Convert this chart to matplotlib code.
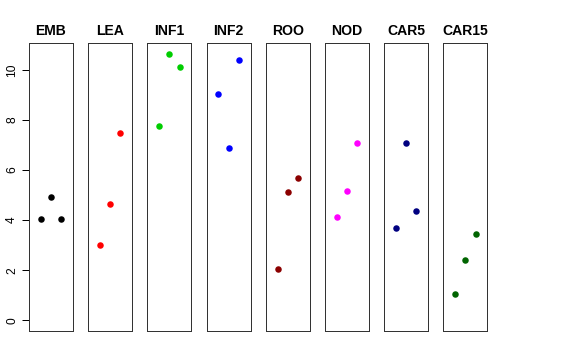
import matplotlib
matplotlib.use("Agg")
import matplotlib.pyplot as plt

plt.rcParams['font.family'] = ['Liberation Sans', 'DejaVu Sans']

categories = ["EMB", "LEA", "INF1", "INF2", "ROO", "NOD", "CAR5", "CAR15"]
colors = ["black", "red", "#00CD00", "blue", "#8B0000", "magenta", "#000080", "#006400"]
values = {
    "EMB":   [4.03, 4.94, 4.04],
    "LEA":   [3.00, 4.63, 7.47],
    "INF1":  [7.76, 10.65, 10.11],
    "INF2":  [9.04, 6.88, 10.41],
    "ROO":   [2.04, 5.13, 5.67],
    "NOD":   [4.11, 5.17, 7.09],
    "CAR5":  [3.69, 7.09, 4.36],
    "CAR15": [1.03, 2.39, 3.44],
}
reps = [1, 2, 3]
yticks = [0, 2, 4, 6, 8, 10]

W, H = 576, 360
fig = plt.figure(figsize=(W / 72, H / 72), dpi=72)

x0, pw, step = 29, 44, 59.2
top, bot = 43, 331
for i, (cat, col) in enumerate(zip(categories, colors)):
    left = x0 + i * step
    ax = fig.add_axes([left / W, (H - bot) / H, pw / W, (bot - top) / H])
    ax.plot(reps, values[cat], 'o', color=col, markersize=6.5, markeredgewidth=0)
    ax.set_xlim(-0.16, 4.16)
    ax.set_ylim(-0.43, 11.08)
    ax.set_xticks([])
    ax.set_title(cat, fontsize=14, fontweight='bold', pad=8)
    for s in ax.spines.values():
        s.set_linewidth(1.0)
        s.set_color('#333333')
    if i == 0:
        ax.set_yticks(yticks)
        ax.set_yticklabels([str(t) for t in yticks], rotation=90, va='center', fontsize=12)
        ax.tick_params(axis='y', length=7, width=1, pad=4)
    else:
        ax.set_yticks([])

fig.savefig("out.png", dpi=72)
